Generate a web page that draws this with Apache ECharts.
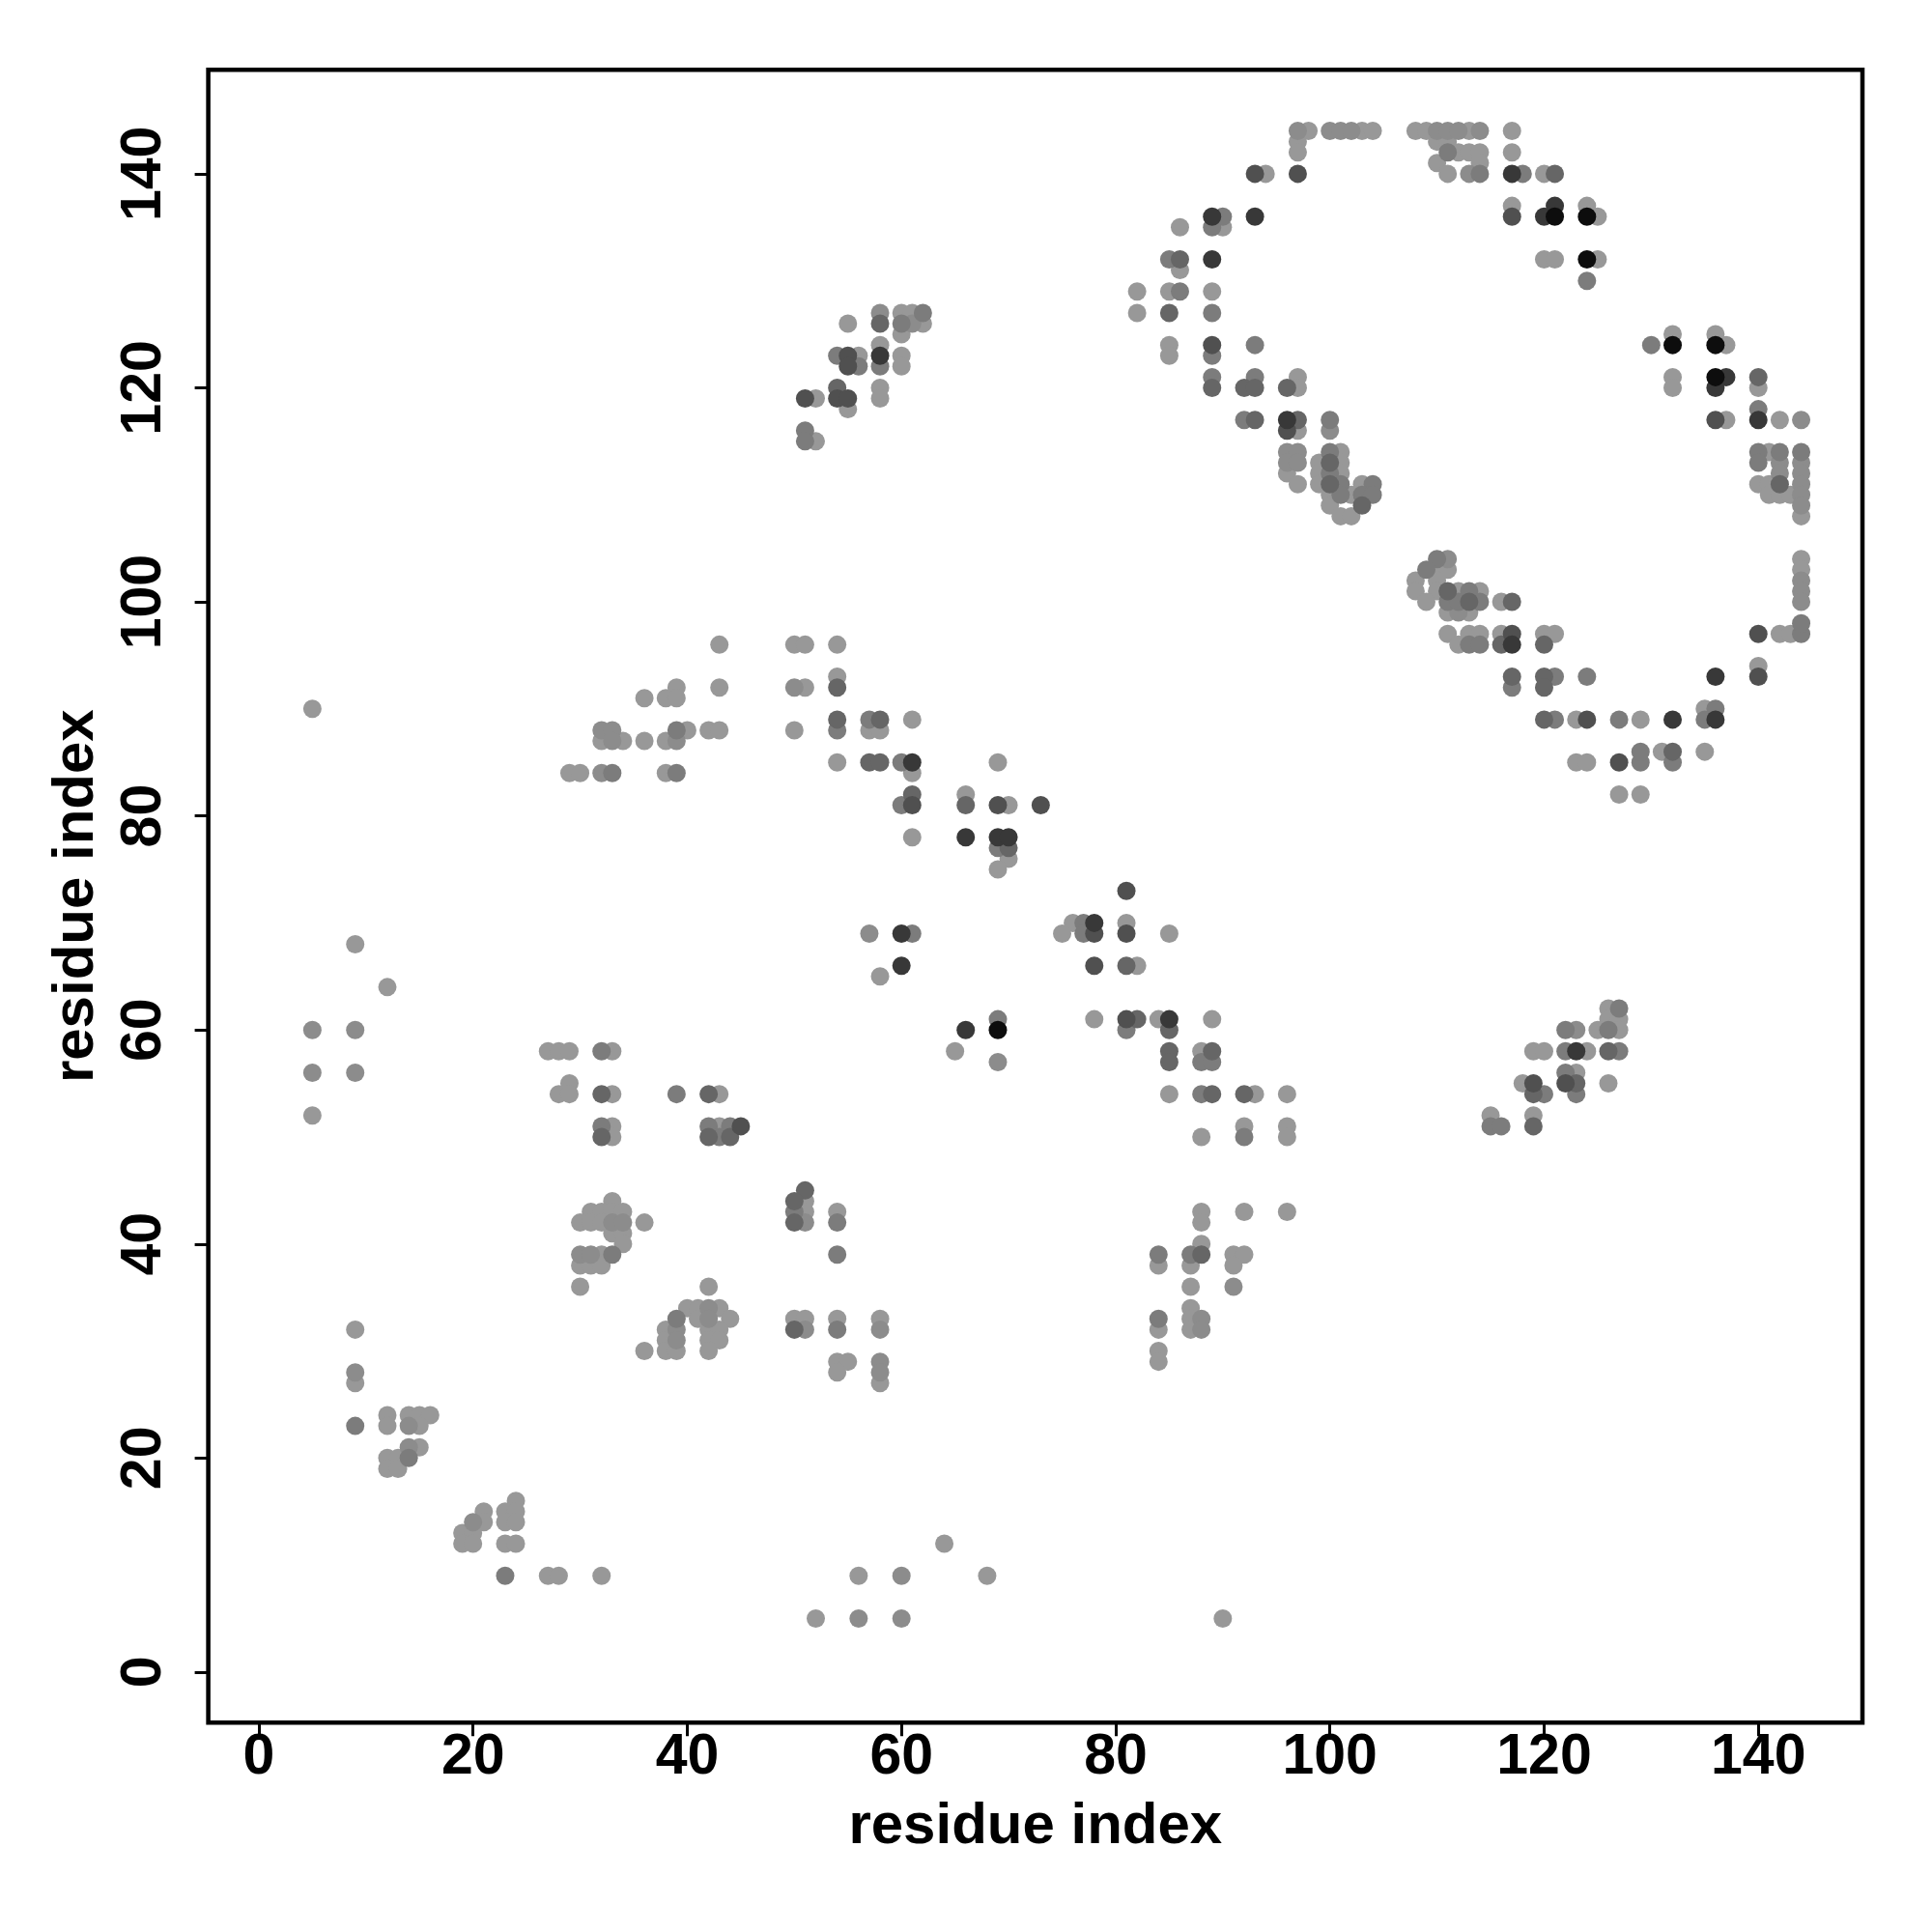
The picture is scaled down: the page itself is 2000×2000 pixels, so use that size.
<!DOCTYPE html>
<html>
<head>
<meta charset="utf-8">
<script src="https://cdn.jsdelivr.net/npm/echarts@6/dist/echarts.min.js"></script>
<style>
html,body{margin:0;padding:0;background:#fff;}
#chart{width:2000px;height:2000px;}
</style>
</head>
<body>
<div id="chart"></div>
<script>
// Axis ticks (residue index)
const tickValues = [0, 20, 40, 60, 80, 100, 120, 140];
const axisMin = -4.72;
const axisMax = 149.72;

// Contacts: [residue i, residue j, shade level 1 (light) .. 7 (black)]
const bottomLeftContacts = [
  [9,32,1],[9,28,2],[9,27,1],[9,23,3],
  [12,24,1],[12,23,1],[14,24,1],[15,24,1],[16,24,1],[14,23,2],[15,23,1],[14,21,2],[15,21,1],
  [12,20,1],[13,20,1],[14,20,3],[12,19,1],[13,19,1],
  [24,16,1],[21,15,1],[23,15,1],[24,15,1],[20,14,2],[21,14,1],[23,14,1],[24,14,1],
  [19,13,1],[20,13,1],[19,12,1],[20,12,1],[23,12,1],[24,12,1],
  [23,9,3],[27,9,1],[28,9,1],[32,9,1],
  [64,12,1],[56,9,1],[60,9,2],[68,9,1],[52,5,1],[56,5,2],[60,5,2],[90,5,1]
];
const leftMidContacts = [
  [9,68,1],[12,64,1],[5,60,2],[9,60,2],[5,56,2],[9,56,2],[5,52,1],
  [27,58,1],[28,58,1],[29,58,1],[32,58,3],[33,58,1],
  [29,55,1],[28,54,1],[29,54,1],[32,54,4],[33,54,1],[39,54,3],[42,54,4],[43,54,1],
  [32,51,3],[33,51,1],[32,50,4],[33,50,1],
  [42,51,3],[43,51,1],[44,51,3],[45,51,5],[42,50,4],[43,50,3],[44,50,4]
];
const lowerMidContacts = [
  [33,44,1],[31,43,1],[32,43,1],[33,43,1],[34,43,1],[30,42,1],[31,42,1],[32,42,1],[33,42,2],[34,42,2],[36,42,1],
  [33,41,1],[34,41,1],[34,40,1],[30,39,2],[31,39,2],[32,39,1],[33,39,3],[30,38,1],[31,38,1],[32,38,1],[30,36,1],
  [42,36,1],[40,34,1],[41,34,1],[42,34,2],[43,34,1],[39,33,3],[41,33,1],[42,33,2],[44,33,1],
  [38,32,1],[39,32,2],[42,32,1],[43,32,1],[38,31,1],[39,31,2],[42,31,1],[43,31,1],
  [36,30,1],[38,30,1],[39,30,1],[42,30,1],
  [51,45,4],[50,44,4],[51,44,1],[50,43,3],[51,43,1],[50,42,4],[51,42,2],[54,43,1],[54,42,3],[54,39,3],
  [50,33,1],[51,33,1],[50,32,4],[51,32,2],[54,33,1],[54,32,3],[58,33,1],[58,32,2],
  [54,29,1],[55,29,1],[54,28,1],[58,29,2],[58,28,2],[58,27,1]
];
const lowerRightContacts = [
  [84,39,3],[84,38,1],[87,39,3],[88,39,4],[87,38,1],[91,39,1],[92,39,1],[91,38,1],[88,40,1],
  [87,36,1],[91,36,2],[88,43,1],[88,42,1],[92,43,1],[96,43,1],
  [87,34,1],[84,33,3],[84,32,1],[87,33,1],[88,33,2],[87,32,1],[88,32,2],[84,30,1],[84,29,1],
  [126,62,1],[127,62,3],[126,61,1],[127,61,1],[122,60,3],[123,60,2],[125,60,1],[126,60,3],[127,60,1],
  [119,58,1],[120,58,1],[122,58,3],[123,58,6],[124,58,1],[126,58,4],[127,58,3],
  [122,56,3],[123,56,1],[122,55,5],[123,55,4],[123,54,3],[126,55,1],
  [118,55,1],[119,55,5],[119,54,4],[120,54,3],
  [115,52,1],[115,51,3],[116,51,3],[119,52,1],[119,51,4]
];
const diagonalContacts = [
  [81,73,5],[76,70,1],[77,70,3],[78,70,6],[81,70,1],[75,69,1],[77,69,3],[78,69,5],[81,69,5],[85,69,1],
  [57,69,2],[60,69,6],[61,69,3],[60,66,6],[58,65,1],[78,66,5],[81,66,4],[82,66,1],
  [69,61,3],[78,61,1],[81,61,5],[82,61,4],[84,61,1],[85,61,6],[89,61,1],
  [66,60,6],[69,60,7],[81,60,3],[85,60,4],[65,58,1],[69,57,2],
  [85,58,4],[88,58,1],[89,58,4],[85,57,4],[88,57,3],[89,57,3],
  [85,54,1],[88,54,3],[89,54,4],[92,54,4],[93,54,1],[96,54,1],
  [92,51,1],[96,51,1],[88,50,1],[92,50,3],[96,50,1]
];
const upperMidContacts = [
  [5,90,1],[43,96,1],[43,92,1],[36,91,1],[38,91,1],[39,92,1],[39,91,1],
  [32,88,2],[33,88,2],[39,88,3],[40,88,1],[42,88,1],[43,88,1],
  [32,87,1],[33,87,2],[34,87,1],[36,87,1],[38,87,1],[39,87,2],
  [29,84,1],[30,84,1],[32,84,2],[33,84,3],[38,84,1],[39,84,3],
  [50,96,1],[51,96,1],[54,96,1],[50,92,2],[51,92,1],[54,93,1],[54,92,4],
  [50,88,1],[54,89,4],[54,88,3],[57,89,3],[58,89,4],[57,88,1],[58,88,1],[61,89,1],
  [54,85,1],[57,85,4],[58,85,4],[60,85,3],[61,85,6],[61,84,1],[69,85,1],
  [61,82,4],[60,81,3],[61,81,5],[66,82,1],[66,81,4],[69,81,5],[70,81,1],[73,81,5],
  [61,78,1],[66,78,6],[69,78,6],[70,78,6],[69,77,3],[70,77,4],[70,76,1],[69,75,1]
];
const upperLeftContacts = [
  [55,126,1],[58,127,2],[58,126,4],[58,124,1],[58,123,6],[58,122,3],[58,120,1],[58,119,1],
  [60,127,1],[60,126,3],[60,125,1],[61,127,1],[61,126,2],[62,127,3],[62,126,1],[60,123,1],[60,122,1],
  [54,123,3],[55,123,5],[56,123,1],[55,122,5],[56,122,3],
  [54,120,4],[54,119,5],[55,119,5],[55,118,1],[51,119,5],[52,119,1],[51,116,3],[51,115,3],[52,115,1]
];
const ringTopLeftContacts = [
  [97,144,2],[98,144,1],[100,144,2],[101,144,2],[102,144,2],[103,144,1],[104,144,1],
  [97,143,1],[97,142,1],[97,140,5],[93,140,5],[94,140,1],
  [89,136,6],[90,136,3],[89,135,3],[90,135,1],[93,136,6],[86,135,1],
  [85,132,3],[86,132,4],[86,131,1],[89,132,6],
  [82,129,1],[85,129,1],[86,129,3],[89,129,1],[82,127,1],[85,127,4],[89,127,3],
  [85,124,1],[85,123,1],[89,124,5],[89,123,3],[93,124,3],
  [89,121,3],[89,120,4],[93,121,3],[92,120,4],[93,120,4],[97,121,1],[96,120,4],[97,120,1],
  [92,117,3],[93,117,4],[96,117,6],[97,117,4],[96,116,5],[97,116,1],[100,117,3],[100,116,2],
  [96,114,2],[97,114,2],[96,113,2],[97,113,2],[96,112,1],[97,111,1],
  [100,114,3],[101,114,1],[99,113,1],[100,113,4],[101,113,1],[99,112,1],[100,112,3],[101,112,1],
  [99,111,1],[100,111,4],[101,111,3],[100,110,1],[101,110,3],[102,110,1],[100,109,1],[101,108,1],[102,108,1],
  [103,111,1],[104,111,3],[103,110,3],[104,110,3],[103,109,4]
];
const ringTopRightContacts = [
  [108,144,1],[109,144,1],[110,144,2],[111,144,2],[112,144,2],[113,144,1],[114,144,2],[117,144,1],
  [110,143,1],[111,143,1],[111,142,3],[112,142,1],[113,142,1],[114,142,1],[110,141,1],[114,141,1],
  [111,140,1],[113,140,2],[114,140,3],
  [117,142,1],[117,140,6],[118,140,3],[120,140,1],[121,140,4],
  [117,137,1],[117,136,5],[120,136,6],[121,137,6],[121,136,7],[124,137,1],[124,136,7],[125,136,1],
  [120,132,1],[121,132,1],[124,132,7],[125,132,1],[124,130,3],
  [130,124,3],[132,125,1],[132,124,7],[136,125,1],[136,124,7],[137,124,1],
  [132,121,1],[132,120,1],[136,121,7],[137,121,6],[136,120,6],[140,121,4],[140,120,1],
  [136,117,5],[137,117,1],[140,118,3],[140,117,6],[142,117,1],[144,117,2],
  [140,114,3],[141,114,1],[142,114,3],[144,114,3],[140,113,3],[142,113,2],[144,113,2],[142,112,2],[144,112,2],
  [140,111,1],[141,111,1],[142,111,4],[144,111,2],[141,110,1],[142,110,1],[143,110,1],[144,110,2],[144,109,2],[144,108,1]
];
const ringBottomContacts = [
  [110,104,3],[111,104,2],[109,103,3],[110,103,1],[111,103,1],[108,102,1],[110,102,1],
  [108,101,1],[110,101,1],[111,101,4],[112,101,1],[113,101,3],[114,101,1],
  [109,100,1],[111,100,3],[112,100,3],[113,100,4],[114,100,3],[116,100,1],[117,100,4],
  [111,99,1],[112,99,2],[113,99,1],
  [111,97,1],[113,97,1],[114,97,1],[116,97,1],[117,97,5],
  [112,96,1],[113,96,3],[114,96,3],[116,96,4],[117,96,6],
  [120,97,1],[121,97,1],[120,96,4],
  [117,93,4],[117,92,3],[120,93,4],[121,93,3],[120,92,4],[124,93,3],
  [120,89,4],[121,89,3],[123,89,1],[124,89,5],[127,89,3],[129,89,1],[132,89,6],
  [135,90,1],[136,90,3],[135,89,3],[136,89,6],[136,93,6],
  [140,94,1],[140,93,5],[140,97,5],[142,97,1],[143,97,1],[144,97,3],[144,98,3],
  [123,85,1],[124,85,1],[127,85,5],[129,85,3],[129,86,3],[131,86,1],[132,86,4],[132,85,3],[135,86,1],
  [127,82,1],[129,82,1],
  [144,104,1],[144,103,1],[144,102,2],[144,101,2],[144,100,2]
];

const shadeColors = ['#989898','#8c8c8c','#7c7c7c','#666666','#505050','#383838','#0d0d0d'];

const allContacts = [].concat(
  bottomLeftContacts, leftMidContacts, lowerMidContacts, lowerRightContacts,
  diagonalContacts, upperMidContacts, upperLeftContacts,
  ringTopLeftContacts, ringTopRightContacts, ringBottomContacts
).slice().sort((a, b) => a[2] - b[2]);

const FONT = 'Liberation Sans, Arial, Helvetica, sans-serif';

const chart = echarts.init(document.getElementById('chart'), null, {renderer: 'canvas'});
chart.setOption({
  animation: false,
  backgroundColor: '#ffffff',
  grid: {
    left: 215.6, top: 72.2, width: 1712.4, height: 1711,
    show: true, borderColor: '#000', borderWidth: 4.5, backgroundColor: 'transparent',
    containLabel: false
  },
  xAxis: {
    type: 'value', min: axisMin, max: axisMax,
    axisLine: {show: false, onZero: false},
    splitLine: {show: false},
    axisTick: {show: true, length: 14, customValues: tickValues, lineStyle: {color: '#000', width: 3}},
    axisLabel: {customValues: tickValues, fontSize: 59, fontWeight: 'bold', color: '#000', margin: 7, fontFamily: FONT},
    name: 'residue index', nameLocation: 'middle', nameGap: 78,
    nameTextStyle: {fontSize: 60, fontWeight: 'bold', color: '#000', fontFamily: FONT}
  },
  yAxis: {
    type: 'value', min: axisMin, max: axisMax,
    axisLine: {show: false, onZero: false},
    splitLine: {show: false},
    axisTick: {show: true, length: 14, customValues: tickValues, lineStyle: {color: '#000', width: 3}},
    axisLabel: {customValues: tickValues, rotate: 90, fontSize: 59, fontWeight: 'bold', color: '#000', margin: 36, fontFamily: FONT},
    name: 'residue index', nameLocation: 'middle', nameGap: 106, nameRotate: 90,
    nameTextStyle: {fontSize: 60, fontWeight: 'bold', color: '#000', fontFamily: FONT}
  },
  series: [{
    type: 'scatter',
    symbol: 'circle',
    symbolSize: 19,
    data: allContacts,
    itemStyle: {
      opacity: 1,
      color: function (p) { return shadeColors[p.data[2] - 1]; }
    },
    emphasis: {disabled: true}
  }]
});
</script>
</body>
</html>
